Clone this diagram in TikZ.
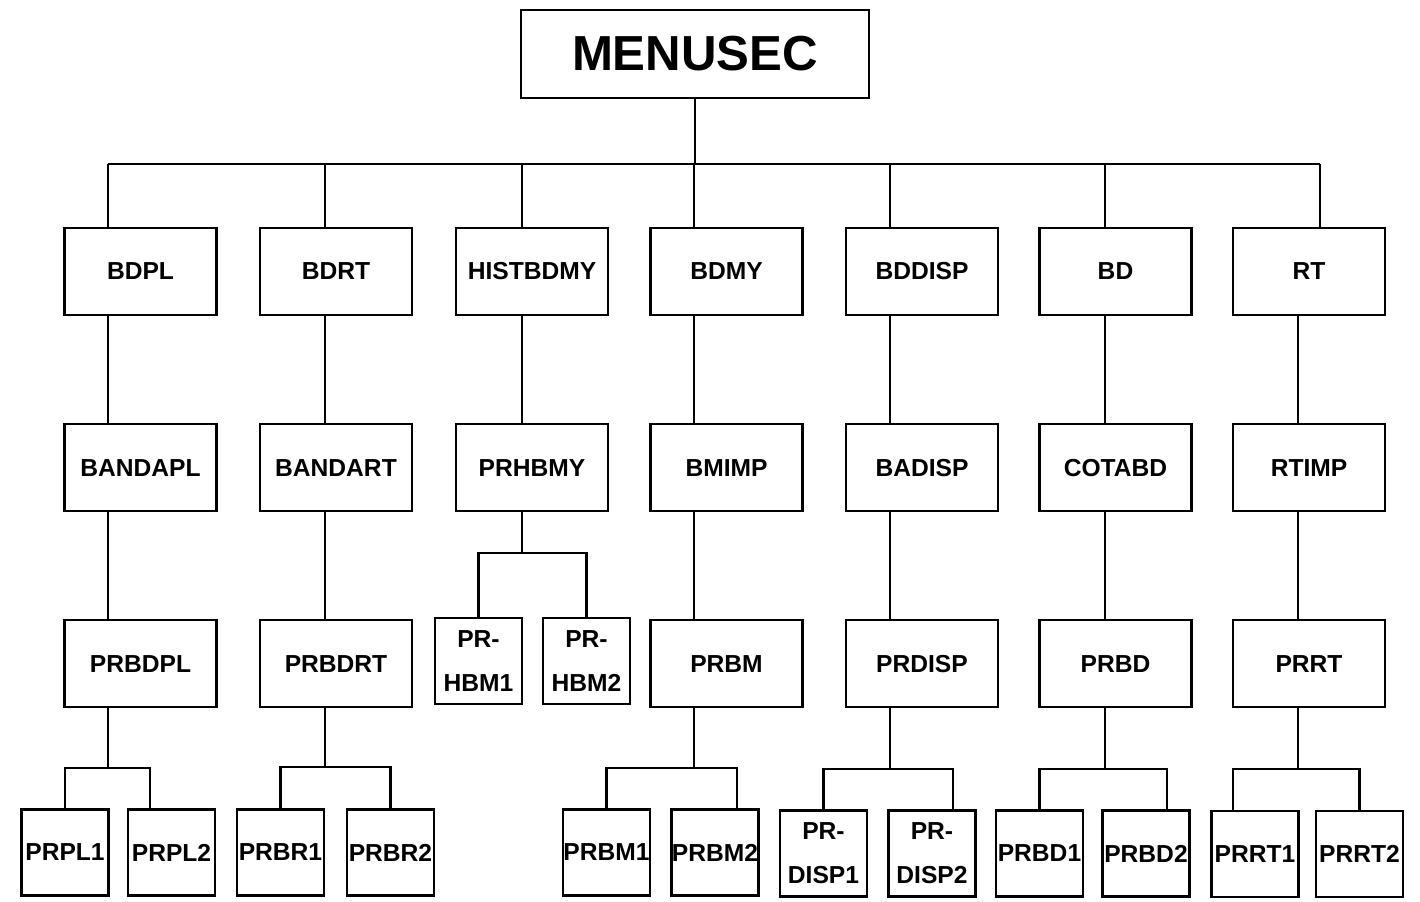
\documentclass[tikz,border=0pt]{standalone}
\usepackage{fontspec}
\setmainfont{Liberation Sans}
\usetikzlibrary{positioning}

\begin{document}
\begin{tikzpicture}[x=0.02cm, y=-0.02cm, node distance=2.14cm,
        every node/.style={font=\fontsize{14}{17}\selectfont\bfseries},
        module/.style={draw, line width=1.2pt, minimum width=3.04cm, minimum height=1.74cm, inner sep=1pt},
        leaf/.style={draw, line width=1.2pt, minimum width=1.74cm, minimum height=1.72cm, inner sep=0pt, align=center},
        link/.style={line width=1.2pt}]
        \useasboundingbox (0,0) rectangle (1420,902);

        % Main menu
        \node [draw, line width=1.2pt, minimum width=6.96cm, minimum height=1.76cm, font=\fontsize{28}{30}\selectfont\bfseries] (menusec) at (695,54) {MENUSEC};

        % Plane column
        \node [module] (bdpl) at (140.5,271.5) {BDPL};
        \node [module, below=of bdpl] (bandapl) {BANDAPL};
        \node [module, below=of bandapl] (prbdpl) {PRBDPL};
        \node [leaf] (prpl1) at (65,852.5) {PRPL1};
        \node [leaf] (prpl2) at (171.5,852.5) {PRPL2};

        % Route column
        \node [module] (bdrt) at (336,271.5) {BDRT};
        \node [module, below=of bdrt] (bandart) {BANDART};
        \node [module, below=of bandart] (prbdrt) {PRBDRT};
        \node [leaf] (prbr1) at (280.5,852.5) {PRBR1};
        \node [leaf] (prbr2) at (390.5,852.5) {PRBR2};

        % History column
        \node [module] (histbdmy) at (532,271.5) {HISTBDMY};
        \node [module, below=of histbdmy] (prhbmy) {PRHBMY};
        \node [leaf] (prhbm1) at (478.5,661) {PR-\\[8pt]HBM1};
        \node [leaf] (prhbm2) at (586.5,661) {PR-\\[8pt]HBM2};

        % BM column
        \node [module] (bdmy) at (726.5,271.5) {BDMY};
        \node [module, below=of bdmy] (bmimp) {BMIMP};
        \node [module, below=of bmimp] (prbm) {PRBM};
        \node [leaf] (prbm1) at (606.5,852.5) {PRBM1};
        \node [leaf] (prbm2) at (715,852.5) {PRBM2};

        % Display column
        \node [module] (bddisp) at (922,271.5) {BDDISP};
        \node [module, below=of bddisp] (badisp) {BADISP};
        \node [module, below=of badisp] (prdisp) {PRDISP};
        \node [leaf] (prdisp1) at (823.5,853.5) {PR-\\[8pt]DISP1};
        \node [leaf] (prdisp2) at (932,853.5) {PR-\\[8pt]DISP2};

        % BD column
        \node [module] (bd) at (1115.5,271.5) {BD};
        \node [module, below=of bd] (cotabd) {COTABD};
        \node [module, below=of cotabd] (prbd) {PRBD};
        \node [leaf] (prbd1) at (1039.5,853.5) {PRBD1};
        \node [leaf] (prbd2) at (1146,853.5) {PRBD2};

        % RT column
        \node [module] (rt) at (1309,271.5) {RT};
        \node [module, below=of rt] (rtimp) {RTIMP};
        \node [module, below=of rtimp] (prrt) {PRRT};
        \node [leaf] (prrt1) at (1255,854) {PRRT1};
        \node [leaf] (prrt2) at (1359.5,854) {PRRT2};

        % line positions
        \coordinate (hub) at (695,164);
        \coordinate (c1) at (108,164);
        \coordinate (c2) at (325,164);
        \coordinate (c3) at (522,164);
        \coordinate (c4) at (694,164);
        \coordinate (c5) at (890,164);
        \coordinate (c6) at (1105,164);
        \coordinate (c7) at (1320,164);
        \coordinate (c7b) at (1298,164);
        \coordinate (k1) at (108,768);
        \coordinate (k2) at (325,767);
        \coordinate (k3) at (522,553);
        \coordinate (k4) at (694,768);
        \coordinate (k5) at (890,769);
        \coordinate (k6) at (1105,769);
        \coordinate (k7) at (1298,769);

        % Connectors
        \draw [link] (menusec) -- (hub);
        \draw [link] (c1) -- (c7);
        \draw [link] (c1) -- (c1 |- bdpl.north) (c1 |- bdpl.south) -- (c1 |- bandapl.north) (c1 |- bandapl.south) -- (c1 |- prbdpl.north) (c1 |- prbdpl.south) -- (k1);
        \draw [link] (prpl1.north) |- (k1) -| ([xshift=-0.43cm]prpl2.north);
        \draw [link] (c2) -- (c2 |- bdrt.north) (c2 |- bdrt.south) -- (c2 |- bandart.north) (c2 |- bandart.south) -- (c2 |- prbdrt.north) (c2 |- prbdrt.south) -- (k2);
        \draw [link] (prbr1.north) |- (k2) -| (prbr2.north);
        \draw [link] (c3) -- (c3 |- histbdmy.north) (c3 |- histbdmy.south) -- (c3 |- prhbmy.north) (c3 |- prhbmy.south) -- (k3);
        \draw [link] (prhbm1.north) |- (k3) -| (prhbm2.north);
        \draw [link] (c4) -- (c4 |- bdmy.north) (c4 |- bdmy.south) -- (c4 |- bmimp.north) (c4 |- bmimp.south) -- (c4 |- prbm.north) (c4 |- prbm.south) -- (k4);
        \draw [link] (prbm1.north) |- (k4) -| ([xshift=0.44cm]prbm2.north);
        \draw [link] (c5) -- (c5 |- bddisp.north) (c5 |- bddisp.south) -- (c5 |- badisp.north) (c5 |- badisp.south) -- (c5 |- prdisp.north) (c5 |- prdisp.south) -- (k5);
        \draw [link] (prdisp1.north) |- (k5) -| ([xshift=0.42cm]prdisp2.north);
        \draw [link] (c6) -- (c6 |- bd.north) (c6 |- bd.south) -- (c6 |- cotabd.north) (c6 |- cotabd.south) -- (c6 |- prbd.north) (c6 |- prbd.south) -- (k6);
        \draw [link] (prbd1.north) |- (k6) -| ([xshift=0.42cm]prbd2.north);
        \draw [link] (c7) -- (c7 |- rt.north) (c7b |- rt.south) -- (c7b |- rtimp.north) (c7b |- rtimp.south) -- (c7b |- prrt.north) (c7b |- prrt.south) -- (k7);
        \draw [link] ([xshift=-0.44cm]prrt1.north) |- (k7) -| (prrt2.north);
    \end{tikzpicture}
\end{document}
